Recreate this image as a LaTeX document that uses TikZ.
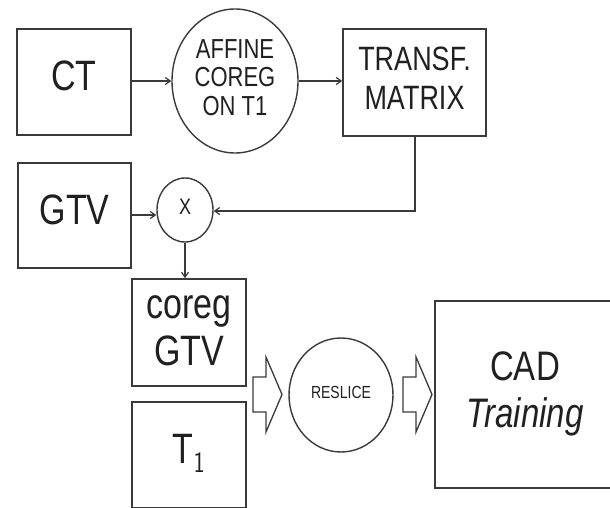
\documentclass[tikz,border=0pt]{standalone}
\usepackage{fontspec}
\setmainfont{Liberation Sans}
\usepackage{graphicx}
\usetikzlibrary{arrows.meta,shapes.geometric}
\definecolor{ln}{HTML}{3A3A3A}
\definecolor{tx}{HTML}{202020}
\newcommand{\st}[2]{\scalebox{1}[1.25]{\fontsize{#1}{#1}\selectfont\begin{tabular}{@{}c@{}}#2\end{tabular}}}
\begin{document}
\begin{tikzpicture}[x=1pt,y=-1pt,
  box/.style={draw=ln,line width=1.6pt,rectangle,inner sep=0pt,text=tx,anchor=center},
  ell/.style={draw=ln,line width=1.4pt,ellipse,inner sep=0pt,text=tx},
  conn/.style={draw=ln,line width=1.4pt,-{Straight Barb[length=5pt,width=7pt,line width=1.2pt]}},
  blk/.style={draw=ln,line width=1.3pt,line join=miter,fill=white}]
\useasboundingbox (0,0) rectangle (610,508);
\clip (0,0) rectangle (610,508);
\node[box,minimum width=114pt,minimum height=106pt] (ct) at (74,82) {\st{34}{CT}};
\node[ell,minimum width=126pt,minimum height=144pt] (aff) at (235,81) {\renewcommand{\arraystretch}{1.04}\st{22}{AFFINE\\COREG\\ON T1}};
\node[box,minimum width=143pt,minimum height=107pt] (tm) at (414.5,82.5) {\renewcommand{\arraystretch}{1.14}\st{27}{TRANSF.\\MATRIX}};
\node[box,minimum width=113pt,minimum height=105pt] (gtv) at (74.5,215.5) {\st{34}{GTV}};
\node[ell,minimum width=56pt,minimum height=64pt] (x) at (185,210) {\st{18}{X}};
\node[box,minimum width=114pt,minimum height=107pt] (cg) at (189,332.5) {\renewcommand{\arraystretch}{1.1}\st{34}{coreg\\GTV}};
\node[box,minimum width=114pt,minimum height=106pt] (t1) at (189,455) {\st{34}{T$_{\mathsf{1}}$}};
\node[ell,minimum width=104pt,minimum height=114pt] (rs) at (341,395) {\st{14}{RESLICE}};
\node[box,minimum width=250pt,minimum height=187pt] (cad) at (560,394.5) {};
\node[text=tx,inner sep=0pt] (cadt) at (525,394.5) {\renewcommand{\arraystretch}{1.14}\st{33}{CAD\\\textit{Training}}};
\draw[conn] (ct.east |- 0,81) -- (aff.west |- 0,81);
\draw[conn] (aff.east |- 0,81) -- (tm.west |- 0,81);
\draw[conn] (tm.south -| 415,0) |- (x.east |- 0,211);
\draw[conn] (gtv.east |- 0,215) -- (x.west |- 0,215);
\draw[conn] (x.south) -- (cg.north -| x.south);
\draw[blk] (253,377) -- (266,377) -- (266,357) -- (282,394.5) -- (266,432) -- (266,412) -- (253,412) -- cycle;
\draw[blk] (403,377) -- (416,377) -- (416,357) -- (432,394.5) -- (416,432) -- (416,412) -- (403,412) -- cycle;
\end{tikzpicture}
\end{document}
